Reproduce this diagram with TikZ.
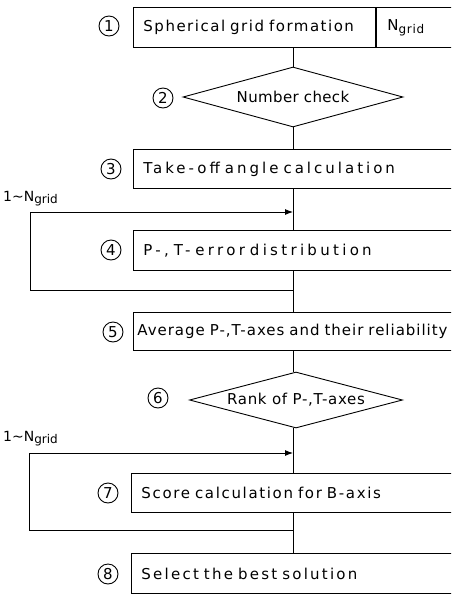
\documentclass[tikz,border=0pt]{standalone}
\usepackage{fontspec}
\setmainfont{DejaVu Sans}
\usetikzlibrary{positioning,arrows.meta,shapes.geometric}
\newcommand{\spaced}[2]{{\addfontfeature{LetterSpace=#1}#2}}
\newcommand{\ngrid}{N{\fontsize{12}{14}\selectfont\raisebox{-0.45ex}{grid}}}

\begin{document}
\begin{tikzpicture}[
  x=1pt, y=-1pt,
  box/.style={draw, line width=0.9pt, anchor=north west, minimum height=40pt, text width=320pt, inner xsep=10pt, align=left, font=\fontsize{15}{17}\selectfont},
  dia/.style={draw, line width=0.9pt, shape=diamond, aspect=3.7, inner sep=0pt, font=\fontsize{15}{17}\selectfont},
  num/.style={circle, draw, line width=0.9pt, inner sep=0pt, minimum size=20pt, font=\fontsize{15}{17}\selectfont},
  arr/.style={-{Latex[length=8pt,width=6pt]}, line width=0.9pt},
  line/.style={line width=0.9pt}
]
\useasboundingbox (0,0) rectangle (451,595);
\clip (0,0) rectangle (451,595);

% boxes and checks
\node[box, text width=222pt, minimum height=40pt] (b1) at (133,7) {\spaced{10}{Spherical grid formation}};
\node[box, text width=100pt, inner xsep=11pt, minimum height=40pt] (ng) at (b1.north east) {\spaced{6}{\ngrid}};
\node[dia, minimum width=220pt, minimum height=60pt] (d2) at (293,97) {\spaced{2.4}{Number check}};
\node[box, minimum height=39pt] (b3) at (133,149) {\spaced{20}{Take-off angle calculation}};
\node[box] (b4) at (133,230) {\spaced{22}{P-, T- error distribution}};
\node[box, inner xsep=4pt, minimum height=38pt] (b5) at (133,312) {\spaced{6.5}{Average P-,T-axes and their reliability}};
\node[dia, minimum width=213pt, minimum height=56pt] (d6) at (296,400) {\spaced{4.5}{Rank of P-,T-axes}};
\node[box, minimum height=39pt] (b7) at (131,473) {\spaced{11}{Score calculation for B-axis}};
\node[box] (b8) at (131,553) {\spaced{15}{Select the best solution}};

% step numbers
\node[num] (c1) at (109,26) {1};
\node[num] (c2) at (163,98) {2};
\node[num] (c3) at (111,169) {3};
\node[num] (c4) at (111,250) {4};
\node[num] (c5) at (113,332) {5};
\node[num] (c6) at (158,398) {6};
\node[num] (c7) at (108,493) {7};
\node[num] (c8) at (108,574) {8};

% loops
\coordinate (l4a) at (30,212);
\coordinate (l4b) at (30,290);
\coordinate (l7a) at (29,453);
\coordinate (l7b) at (29,530);
\node[anchor=base west, inner sep=0pt, font=\fontsize{14}{16}\selectfont] (n4) at (3,201) {1\textasciitilde\ngrid};
\node[anchor=base west, inner sep=0pt, font=\fontsize{14}{16}\selectfont] (n7) at (3,441) {1\textasciitilde\ngrid};

% main line
\draw[line] (d2.north |- b1.south) -- (d2.north);
\draw[line] (d2.south) -- (d2.south |- b3.north);
\draw[line] (d2.south |- b3.south) -- (d2.south |- b4.north);
\draw[line] (d2.south |- b4.south) -- (d2.south |- b5.north);
\draw[line] (d2.south |- b5.south) -- (d2.south |- d6.north);
\draw[line] (d2.south |- d6.south) -- (d2.south |- b7.north);
\draw[line] (d2.south |- b7.south) -- (d2.south |- b8.north);

\draw[line] (d2.south |- l4b) -- (l4b) -- (l4a);
\draw[arr] (l4a) -- (l4a -| d2.south);
\draw[line] (d2.south |- l7b) -- (l7b) -- (l7a);
\draw[arr] (l7a) -- (l7a -| d2.south);
\end{tikzpicture}
\end{document}
